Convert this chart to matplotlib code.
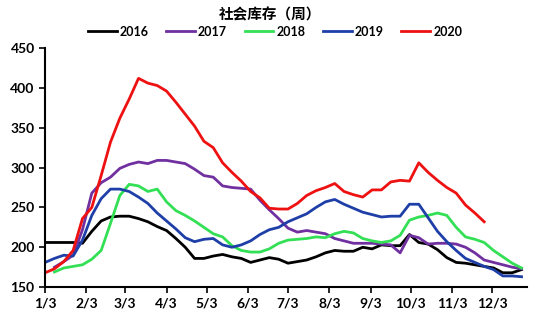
import matplotlib.pyplot as plt
import matplotlib.dates as mdates
import pandas as pd

# weekly social inventory readings, each series with its own first week
start_2016 = '2020-01-03'
v2016 = [206, 206, 206, 206, 205, 220, 233, 238, 239, 239, 236, 232, 226, 221, 211, 200,
         186, 186, 189, 191, 188, 186, 181, 184, 187, 185, 180, 182, 184, 188, 193, 196,
         195, 195, 200, 198, 203, 202, 202, 216, 206, 204, 197, 187, 181, 180, 178, 176,
         174, 168, 168, 172]
start_2017 = '2020-01-10'
v2017 = [175, 182, 190, 222, 268, 281, 288, 299, 304, 307, 305, 309, 309, 307, 305, 298,
         290, 288, 277, 275, 274, 273, 259, 247, 236, 224, 219, 221, 219, 217, 211, 208,
         205, 205, 205, 204, 203, 193, 215, 212, 204, 205, 205, 204, 200, 193, 184, 181,
         178, 175, 173]
start_2018 = '2020-01-10'
v2018 = [169, 174, 176, 178, 185, 196, 230, 265, 279, 277, 270, 273, 257, 246, 240, 233,
         225, 217, 213, 202, 196, 194, 194, 198, 205, 209, 210, 211, 213, 212, 217, 220,
         218, 211, 208, 206, 208, 215, 234, 238, 240, 243, 240, 225, 213, 210, 206, 196,
         188, 180, 174]
start_2019 = '2020-01-03'
v2019 = [181, 186, 190, 189, 209, 240, 261, 273, 273, 270, 263, 255, 243, 233, 223, 212,
         207, 210, 211, 203, 200, 203, 208, 216, 222, 225, 232, 237, 242, 250, 257, 260,
         254, 249, 244, 241, 238, 239, 239, 254, 254, 237, 220, 207, 196, 186, 181, 176,
         172, 164, 164, 163]
start_2020 = '2020-01-03'
v2020 = [168, 173, 182, 196, 236, 250, 290, 332, 362, 386, 412, 406, 403, 396, 382, 367,
         352, 333, 325, 306, 294, 283, 270, 262, 249, 248, 248, 255, 265, 271, 275, 280,
         270, 266, 263, 272, 272, 282, 284, 283, 306, 294, 284, 275, 268, 253, 243, 232]

years = ['2016', '2017', '2018', '2019', '2020']
starts = [start_2016, start_2017, start_2018, start_2019, start_2020]
values = [v2016, v2017, v2018, v2019, v2020]
colors = ['#000000', '#7030A0', '#33E055', '#1F3FA8', '#EE1111']

plt.rcParams['font.family'] = ['Lato', 'DejaVu Sans']

fig = plt.figure(figsize=(5.5, 3.27), dpi=100)
ax = fig.add_axes([0.082, 0.122, 0.876, 0.731])

for yr, st, vals, c in zip(years, starts, values, colors):
    dates = pd.date_range(st, periods=len(vals), freq='7D')
    ax.plot(dates, vals, color=c, lw=2, label=yr)

ax.set_ylim(150, 450)
ax.set_yticks(range(150, 451, 50))
ax.set_xlim(pd.Timestamp('2020-01-03'), pd.Timestamp('2020-12-29'))
ax.xaxis.set_major_locator(mdates.MonthLocator(bymonthday=3))
ax.xaxis.set_major_formatter(plt.FuncFormatter(
    lambda x, pos: '%d/%d' % (mdates.num2date(x).month, mdates.num2date(x).day)))

for s in ['top', 'right']:
    ax.spines[s].set_visible(False)
for s in ['left', 'bottom']:
    ax.spines[s].set_linewidth(1.5)
ax.tick_params(axis='both', length=4, width=1.2, labelsize=10)
for lab in ax.get_xticklabels() + ax.get_yticklabels():
    lab.set_fontweight('bold')

fig.text(0.49, 0.955, '社会库存（周）', ha='center', va='center', fontsize=10.5,
         fontweight='bold', family=['Noto Sans CJK SC', 'DejaVu Sans'])
leg = fig.legend(loc='center', bbox_to_anchor=(0.50, 0.903), ncol=5, frameon=False,
                 handlelength=2.3, columnspacing=1.4, handletextpad=0.25,
                 prop={'weight': 'bold', 'size': 9})

fig.savefig('out.png', dpi=100)
